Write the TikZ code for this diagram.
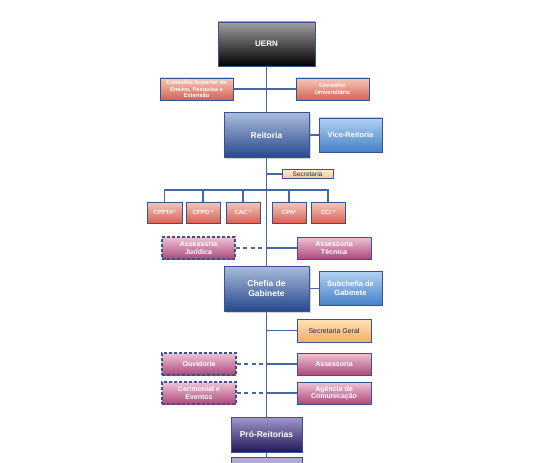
\documentclass[tikz,border=0pt]{standalone}
\usepackage{fontspec}
\setmainfont{Liberation Sans}
\usetikzlibrary{shadows}
\definecolor{linha}{RGB}{72,102,165}
\definecolor{borda}{RGB}{58,82,142}
\definecolor{lilas}{RGB}{180,170,205}
\begin{document}
\begin{tikzpicture}[x=1pt,y=-1pt,
  caixa/.style={draw=borda, line width=0.9pt, inner sep=0.5pt, align=center, text=white, font=\bfseries\fontsize{5.8}{6.3}\selectfont, shading=axis},
  topo/.style={caixa, top color={rgb,255:red,160;green,160;blue,160}, bottom color=black, minimum width=97pt, minimum height=44pt, font=\bfseries\fontsize{8}{9}\selectfont},
  conselho/.style={caixa, top color={rgb,255:red,246;green,200;blue,185}, bottom color={rgb,255:red,214;green,98;blue,82}, minimum width=73pt, minimum height=22pt},
  comissao/.style={conselho, minimum width=34pt, minimum height=21pt, font=\bfseries\fontsize{6}{7}\selectfont},
  chefe/.style={caixa, top color={rgb,255:red,170;green,188;blue,222}, bottom color={rgb,255:red,38;green,72;blue,140}, minimum width=85pt, minimum height=45pt, font=\bfseries\fontsize{8.5}{10}\selectfont, drop shadow={opacity=0.35, shadow xshift=2pt, shadow yshift=-2pt}},
  vice/.style={caixa, top color={rgb,255:red,178;green,210;blue,242}, bottom color={rgb,255:red,68;green,128;blue,200}, minimum width=63pt, minimum height=34pt, font=\bfseries\fontsize{7.5}{9}\selectfont},
  secret/.style={caixa, text={rgb,255:red,30;green,40;blue,80}, top color={rgb,255:red,254;green,238;blue,214}, bottom color={rgb,255:red,248;green,196;blue,140}, minimum width=51pt, minimum height=9pt, font=\fontsize{6.5}{7}\selectfont},
  secgeral/.style={secret, top color={rgb,255:red,254;green,228;blue,186}, bottom color={rgb,255:red,245;green,172;blue,98}, minimum width=74pt, minimum height=23pt, font=\fontsize{7}{8}\selectfont},
  assessor/.style={caixa, top color={rgb,255:red,238;green,196;blue,214}, bottom color={rgb,255:red,172;green,72;blue,122}, minimum width=74pt, minimum height=22pt, font=\bfseries\fontsize{7}{7.5}\selectfont},
  apoio/.style={assessor, dashed, dash pattern=on 3pt off 2pt, line width=1.1pt},
  pro/.style={caixa, top color={rgb,255:red,162;green,152;blue,202}, bottom color={rgb,255:red,34;green,24;blue,88}, minimum width=71pt, minimum height=35pt, font=\bfseries\fontsize{8.5}{9}\selectfont},
  liga/.style={draw=linha, line width=1.1pt},
  tracej/.style={liga, dash pattern=on 4pt off 3.5pt}]
\useasboundingbox (0,0) rectangle (534,462);
% eixo principal
\node[topo] (uern) at (266.5,44){UERN};
\node[conselho] (consepe) at (196.5,89){Conselho Superior de\\Ensino, Pesquisa e\\Extensão};
\node[conselho] (consuni) at (332.5,89){Conselho\\Universitário};
\node[pro, top color=lilas, bottom color=lilas] (proximo) at (266.5,475){};
\draw[liga] (uern) -- (proximo);
\draw[liga] (consepe.east) -- (consuni.west);
\node[chefe] (reitoria) at (266.5,135){Reitoria};
\node[vice] (vicereit) at (350.5,135){Vice-Reitoria};
\draw[liga] (reitoria) -- (vicereit);
\node[secret] (secret) at (307.5,174){Secretaria};
\draw[liga] (secret.west) -- (secret.west -| uern.south);
% comissoes
\coordinate (barra) at (266.5,190);
\node[comissao, minimum width=35pt] (cppta) at (164.5,212.5){CPPTA*};
\node[comissao] (cppd) at (203,212.5){CPPD *};
\node[comissao] (cac) at (243,212.5){CAC *};
\node[comissao] (cpa) at (289,212.5){CPA*};
\node[comissao] (cci) at (328,212.5){CCI *};
\draw[liga] (cppta.north) |- (barra) -| (cci.north);
\foreach \c in {cppd,cac,cpa}
  \draw[liga] (\c.north) -- (\c.north |- barra);
% assessorias
\node[apoio, minimum width=73pt] (juridica) at (198.5,248){Assessoria\\Jurídica};
\node[assessor] (tecnica) at (334,248){Assessoria\\Técnica};
\draw[tracej] (juridica.east) -- (juridica.east -| uern.south);
\draw[liga] (tecnica.west) -- (tecnica.west -| uern.south);
\node[chefe] (chefia) at (266.5,288.5){Chefia de\\Gabinete};
\node[vice] (subchefia) at (350.5,288.5){Subchefia de\\Gabinete};
\draw[liga] (chefia) -- (subchefia);
\node[secgeral] (secgeral) at (334,330.5){Secretaria Geral};
\draw[liga] (secgeral.west) -- (secgeral.west -| uern.south);
\node[apoio] (ouvidoria) at (199,364){Ouvidoria};
\node[assessor] (assessoria) at (334,364){Assessoria};
\node[apoio] (cerimonial) at (199,393){Cerimonial e\\Eventos};
\node[assessor] (agencia) at (334,393){Agência de\\Comunicação};
\foreach \e/\d in {ouvidoria/assessoria,cerimonial/agencia}{
  \draw[tracej] (\e.east) -- (\e.east -| uern.south);
  \draw[liga] (\d.west) -- (\d.west -| uern.south);
}
\node[pro] (proreit) at (266.5,434.5){Pró-Reitorias};
\end{tikzpicture}
\end{document}
